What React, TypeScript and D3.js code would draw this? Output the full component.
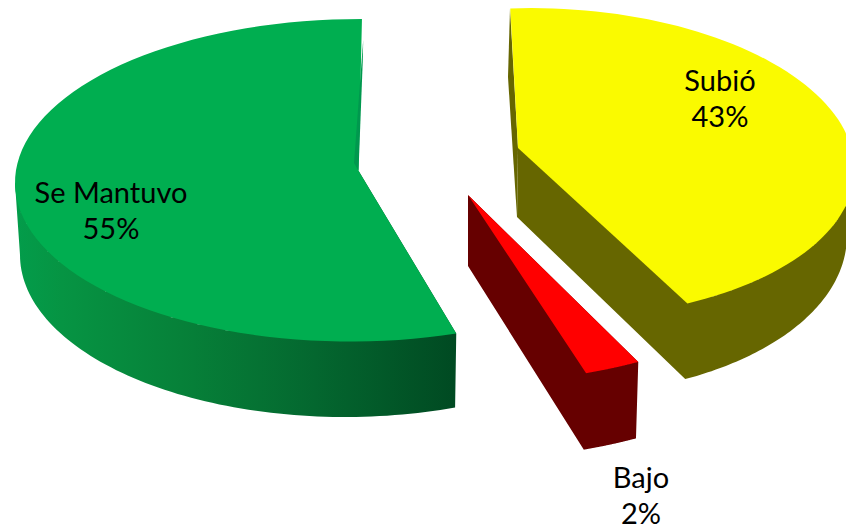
import React from "react";
import * as d3 from "d3";

const categories = ["Subió", "Bajo", "Se Mantuvo"];
const values = [43, 2, 55];
const percentLabels = ["43%", "2%", "55%"];

type Pt = [number, number];
type Ell = { cx: number; cy: number; a: number; b: number; phi: number };

const WIDTH = 846;
const HEIGHT = 529;
const DEG = Math.PI / 180;

// Projected geometry of each exploded slice (ellipses of the top and bottom rims).
const sliceLayout: {
  top: Ell; bottom: Ell;
  topRange: [number, number];
  wallTop: [number, number]; wallBottom: [number, number];
  sideTheta: [number, number] | null;
  apexTop: Pt; apexBottom: Pt;
  faceFill: string; wallFill: string;
  label: [number, number];
}[] = [
  {
    top: { cx: 543.9, cy: 163.1, a: 310.7, b: 154.8, phi: 1.57 },
    bottom: { cx: 547, cy: 230, a: 300, b: 165, phi: 1.57 },
    topRange: [-7, 151.7],
    wallTop: [151.7, 85], wallBottom: [85, 151.7],
    sideTheta: [151.7, 151.7],
    apexTop: [518, 148], apexBottom: [517, 217],
    faceFill: "#FAFA00", wallFill: "#666600",
    label: [720, 91],
  },
  {
    top: { cx: 467, cy: 218, a: 350, b: 165, phi: 0 },
    bottom: { cx: 464.7, cy: 294.5, a: 350, b: 165, phi: 0 },
    topRange: [150.7, 160.1],
    wallTop: [150.7, 160.1], wallBottom: [160.1, 150.7],
    sideTheta: [160.1, 160.1],
    apexTop: [468, 195], apexBottom: [468, 266],
    faceFill: "#FF0000", wallFill: "#660000",
    label: [641, 488],
  },
  {
    top: { cx: 355, cy: 180.3, a: 340, b: 161.2, phi: -0.48 },
    bottom: { cx: 345, cy: 255, a: 325, b: 162, phi: 0 },
    topRange: [162.9, 361.4],
    wallTop: [162.9, 270], wallBottom: [270, 160.2],
    sideTheta: null,
    apexTop: [358.5, 170.7], apexBottom: [358.5, 170.7],
    faceFill: "#00AE50", wallFill: "url(#greenWall)",
    label: [111, 203],
  },
];

// Inner walls glimpsed behind the back radial edges.
const yellowInnerWall: Pt[] = [[510, 8.5], [508, 77], [517, 217], [518, 148]];
const greenInnerWall: Pt[] = [[363.2, 40], [362.8, 60], [358.5, 170.7], [354, 163]];

const greenStops: [number, string][] = [
  [0, "#039c4a"], [0.1, "#069443"], [0.4, "#067f38"], [0.68, "#04672f"], [1, "#004a22"],
];

function onEllipse(e: Ell, thetaDeg: number): Pt {
  const t = thetaDeg * DEG, p = e.phi * DEG;
  const lx = e.a * Math.sin(t), ly = -e.b * Math.cos(t);
  return [e.cx + lx * Math.cos(p) - ly * Math.sin(p), e.cy + lx * Math.sin(p) + ly * Math.cos(p)];
}

function rim(e: Ell, range: [number, number]): Pt[] {
  const s = d3.scaleLinear().domain([0, 80]).range(range);
  return d3.range(0, 81).map((i) => onEllipse(e, s(i)));
}

const polygon = d3.line<Pt>().x((d) => d[0]).y((d) => d[1]);
const closed = (pts: Pt[]) => polygon(pts) + "Z";

export default function App() {
  const arcs = d3.pie<number>().sort(null).startAngle(0).endAngle(2 * Math.PI)(values);
  const slices = arcs.map((arc, i) => {
    const l = sliceLayout[i];
    const toRim = d3.scaleLinear().domain([arc.startAngle, arc.endAngle]).range(l.topRange);
    const face = rim(l.top, [toRim(arc.startAngle), toRim(arc.endAngle)]);
    const wall = [...rim(l.top, l.wallTop), ...rim(l.bottom, l.wallBottom)];
    const side: Pt[] | null = l.sideTheta
      ? [l.apexTop, onEllipse(l.top, l.sideTheta[0]), onEllipse(l.bottom, l.sideTheta[1]), l.apexBottom]
      : null;
    // Underlay below the face so that its front rim blends with the wall and not the page.
    const under = [...rim(l.top, l.wallTop), l.apexTop];
    return { i, l, face, d: closed(wall) + (side ? closed(side) : "") + closed(under) };
  });
  const font = "Lato, 'Noto Sans', sans-serif";
  return (
    <svg width={WIDTH} height={HEIGHT} style={{ position: "absolute", left: 0, top: 0 }}>
      <defs>
        <linearGradient id="greenWall" gradientUnits="userSpaceOnUse" x1={18} x2={455} y1={0} y2={0}>
          {greenStops.map(([o, c]) => <stop key={o} offset={o} stopColor={c} />)}
        </linearGradient>
      </defs>
      <path d={closed(yellowInnerWall)} fill="#666600" />
      {slices.map(({ i, l, d }) => (
        <path key={i} d={d} fill={l.wallFill} />
      ))}
      {slices.map(({ i, l, face }) => (
        <path key={i} d={closed([...face, l.apexTop])} fill={l.faceFill} />
      ))}
      <path d={closed(greenInnerWall)} fill="#00984E" />
      {slices.map(({ i, l }) => (
        <text key={i} textAnchor="middle" fontFamily={font} fontSize={29} fill="#000">
          <tspan x={l.label[0]} y={l.label[1]}>{categories[i]}</tspan>
          <tspan x={l.label[0]} y={l.label[1] + 36}>{percentLabels[i]}</tspan>
        </text>
      ))}
    </svg>
  );
}
